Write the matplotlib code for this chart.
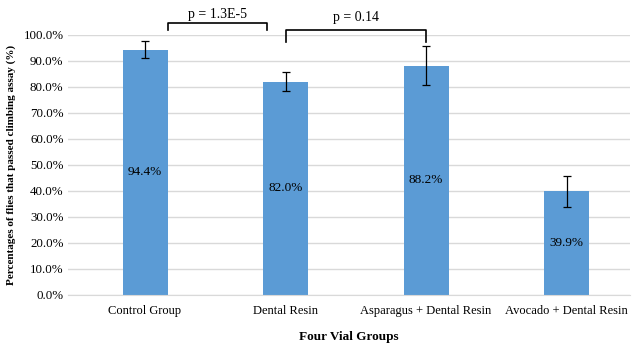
import numpy as np
import matplotlib.pyplot as plt
from matplotlib.ticker import FuncFormatter

# Data
groups = ['Control Group', 'Dental Resin', 'Asparagus + Dental Resin', 'Avocado + Dental Resin']
values = [94.4, 82.0, 88.2, 39.9]
errors = [3.4, 3.7, 7.6, 6.0]
p_labels = ['p = 1.3E-5', 'p = 0.14']

plt.rcParams['font.family'] = ['Liberation Serif', 'DejaVu Serif']

fig = plt.figure(figsize=(6.33, 3.43), dpi=100)
ax = fig.add_axes([0.107, 0.14, 0.888, 0.758])

x = np.arange(len(groups))
ax.bar(x, values, width=0.32, color='#5b9bd5', zorder=2)
ax.errorbar(x, values, yerr=errors, fmt='none', ecolor='black', elinewidth=0.9,
            capsize=3, capthick=0.9, zorder=3)

for xi, v in zip(x, values):
    ax.text(xi, v / 2, '%.1f%%' % v, ha='center', va='center', fontsize=9.5)

ax.set_xlim(-0.55, 3.45)
ax.set_ylim(0, 100)
ax.set_yticks(np.arange(0, 101, 10))
ax.yaxis.set_major_formatter(FuncFormatter(lambda v, p: '%.1f%%' % v))
ax.set_xticks(x)
ax.set_xticklabels(groups)
ax.tick_params(axis='y', length=0, labelsize=9.3, pad=3)
ax.tick_params(axis='x', length=0, labelsize=9, pad=7)
ax.grid(axis='y', color='#d9d9d9', linewidth=1, zorder=0)
for s in ['top', 'right', 'left']:
    ax.spines[s].set_visible(False)
ax.spines['bottom'].set_color('#d9d9d9')

ax.set_xlabel('Four Vial Groups', fontsize=9.5, fontweight='bold', labelpad=10)
ax.set_ylabel('Percentages of flies that passed climbing assay (%)', fontsize=8,
              fontweight='bold')
ax.yaxis.set_label_coords(-0.092, 0.5)

# significance brackets
bw = 0.16
def bracket(x0, x1, y, leg, label, ty):
    ax.plot([x0, x0, x1, x1], [y - leg, y, y, y - leg], color='black', lw=1.2,
            clip_on=False, zorder=4)
    ax.text((x0 + x1) / 2, ty, label, ha='center', va='center', fontsize=10,
            clip_on=False)

bracket(x[0] + bw, x[1] - 0.13, 104.6, 2.8, p_labels[0], 107.8)
bracket(x[1], x[2], 101.9, 4.6, p_labels[1], 106.6)

fig.savefig('out.png', dpi=100)
plt.close(fig)
